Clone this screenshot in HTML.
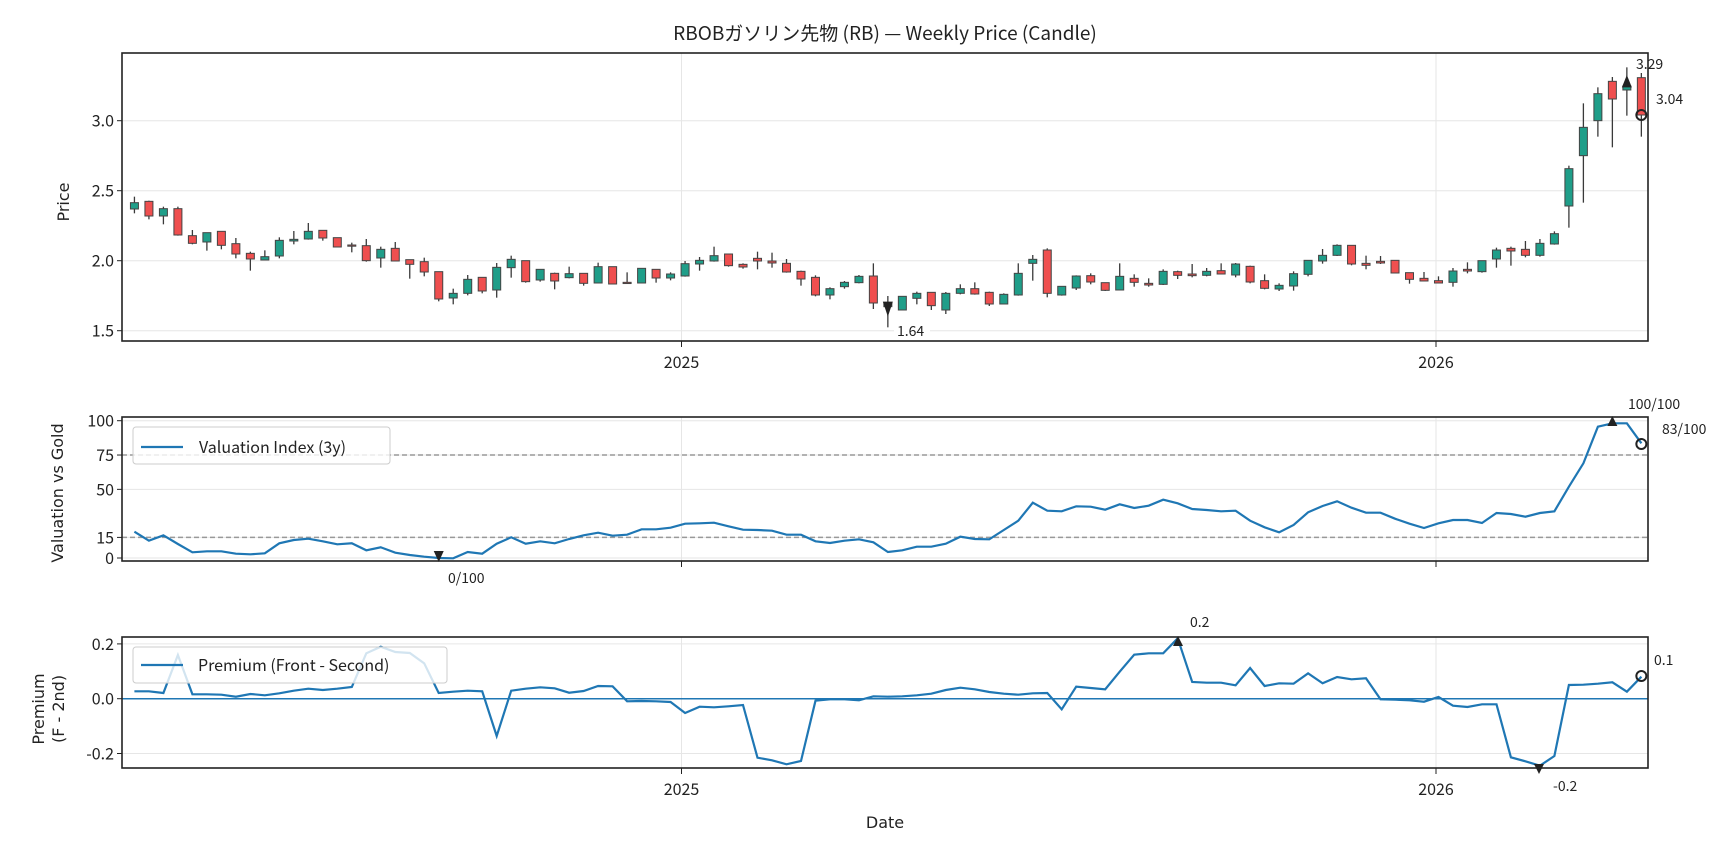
<!DOCTYPE html>
<html><head><meta charset="utf-8"><style>
html,body{margin:0;padding:0;background:#fff;}
svg{display:block;}
text{font-family:"Noto Sans CJK JP","Liberation Sans",sans-serif;fill:#222;}
.lab{font-family:"DejaVu Sans","Liberation Sans",sans-serif;}
</style></head><body>
<svg id="s" xmlns="http://www.w3.org/2000/svg" width="1728" height="849" viewBox="0 0 1728 849"></svg>
<script>
const S=document.getElementById('s');let h='';
const L=122,R=1648;
const X1=i=>i<51?(244+26.3*i)/1.815:864+(17+26.3*(i-51))/1.815;
const C=[['g',608,627,590,640],['r',604,648,602,658],['g',626,648,620,673],['r',626,705,620,707],['r',707,730,690,733],['g',698,726,698,752],['r',694,736,694,748],['r',731,762,714,775],['r',760,777,755,812],['g',770,780,751,781],['g',721,768,712,775],['g',718,723,693,733],['g',694,717,669,719],['r',691,714,691,722],['r',713,741,713,741],['r',735,738,728,757],['r',737,782,717,785],['g',748,774,740,803],['r',745,783,726,783],['r',779,793,779,836],['r',785,816,773,829],['r',815,897,815,904],['g',880,894,866,913],['g',838,880,825,886],['r',832,873,832,880],['g',802,870,789,893],['g',778,803,767,833],['r',782,845,782,848],['g',808,840,808,845],['r',820,843,818,868],['g',821,833,800,835],['r',820,850,820,857],['g',800,849,788,850],['r',800,852,800,853],['r',847,849,817,849],['g',805,849,805,849],['r',808,834,808,848],['g',822,834,817,841],['g',791,828,783,830],['g',781,792,771,812],['g',767,783,740,785],['r',762,797,762,800],['r',793,801,790,806],['r',775,783,755,808],['r',783,789,758,803],['r',790,816,777,818],['r',814,837,812,857],['r',832,885,826,889],['g',866,885,862,898],['g',847,860,843,866],['g',829,848,825,850],
['r',828,909,790,927],['g',908,920,888,982],['g',889,930,889,930],['g',880,895,875,913],['r',877,917,877,930],['g',880,930,876,942],['g',866,880,853,883],['r',866,882,847,884],['r',877,912,875,918],['g',883,912,880,913],['g',820,885,790,887],['g',778,790,765,842],['r',750,880,745,892],['g',859,885,859,887],['g',828,864,826,870],['r',827,846,820,853],['r',848,871,848,873],['g',829,870,790,870],['r',835,847,823,860],['r',850,855,835,860],['g',814,853,808,855],['r',815,826,812,837],['r',822,827,792,832],['g',814,826,804,829],['r',812,822,790,822],['g',792,825,789,832],['r',799,846,797,850],['r',842,865,823,868],['g',856,867,850,873],['g',821,858,814,872],['g',781,823,781,829],['g',766,783,747,791],['g',736,766,733,768],['r',736,792,736,796],['r',790,796,767,808],['r',784,789,768,792],['r',781,819,781,819],['r',818,838,818,851],['r',835,843,816,843],['r',842,849,829,849],['g',813,847,804,860],['r',808,813,787,820],['g',782,815,782,818],['g',750,777,743,803],['r',745,753,740,797],['r',748,766,723,772],['g',730,766,717,770],['g',701,732,694,734],['g',506,618,497,683],['g',382,467,310,608],['g',281,362,262,410],['r',244,297,231,442],['g',258,270,202,347],['r',233,345,219,410]];
const V=[320,347,331,357,382,379,379,386,388,385,355,345,341,349,358,355,376,367,383,390,395,399,400,381,386,356,337,356,349,355,342,331,323,332,329,313,313,308,296,295,293,304,314,315,317,329,329,349,354,347,343,
352,381,376,365,365,356,335,342,343,315,287,233,257,259,244,245,254,238,249,242,224,235,252,255,259,257,287,307,322,300,262,243,229,248,263,263,281,296,309,295,285,285,294,264,267,275,264,259,185,115,5,-5,-5,55];
const P=[799,799,804,690,808,808,809,815,807,811,805,797,791,795,791,786,685,665,681,684,715,804,800,797,799,933,797,791,787,790,803,798,783,784,829,828,829,831,864,845,847,844,840,998,1006,1018,1008,827,823,823,826,
814,815,814,811,806,795,788,793,801,806,809,805,804,853,785,789,793,740,689,685,685,640,771,773,773,781,729,783,775,776,745,775,756,763,760,823,824,826,830,816,842,846,838,838,997,1009,1022,993,780,779,776,772,800,755];
const x25=681.5,x26=1436;
function grid(y1,y2){h+=`<line x1="${x25}" y1="${y1}" x2="${x25}" y2="${y2}" stroke="#e6e6e6" stroke-width="1"/><line x1="${x26}" y1="${y1}" x2="${x26}" y2="${y2}" stroke="#e6e6e6" stroke-width="1"/>`;}
function yt(y,t){h+=`<line x1="${L}" x2="${R}" y1="${y}" y2="${y}" stroke="#e6e6e6"/><line x1="${L-5}" x2="${L}" y1="${y}" y2="${y}" stroke="#222"/><text x="${L-8}" y="${y+6}" font-size="16" text-anchor="end">${t}</text>`;}
function xt(yb,lab){[x25,x26].forEach((x,k)=>{h+=`<line x1="${x}" x2="${x}" y1="${yb}" y2="${yb+6}" stroke="#222"/>`;if(lab)h+=`<text x="${x}" y="${yb+27}" font-size="16" text-anchor="middle">${k?2026:2025}</text>`;});}
h+=`<text x="885" y="40" font-size="19" text-anchor="middle">RBOBガソリン先物 (RB) — Weekly Price (Candle)</text>`;
grid(53,341);
[[3.0,120.7],[2.5,190.7],[2.0,260.7],[1.5,330.7]].forEach(a=>yt(a[1],a[0].toFixed(1)));
C.forEach((c,i)=>{const x=X1(i);const col=c[0]=='g'?'#1f9e89':'#ef4f4f';
h+=`<line x1="${x}" x2="${x}" y1="${c[3]/3}" y2="${c[4]/3}" stroke="#3a3a3a" stroke-width="1.3"/>`;
let t=c[1]/3,b=Math.max(c[2]/3,t+1.2);h+=`<rect x="${x-4}" y="${t}" width="8" height="${b-t}" fill="${col}" stroke="#444" stroke-width="1"/>`;});
h+=`<polygon points="${X1(52)-5},${905/3} ${X1(52)+5},${905/3} ${X1(52)},${950/3}" fill="#222"/>`;
h+=`<rect x="894" y="320" width="36" height="20" fill="#fff"/><text x="897" y="336" font-size="14" fill="#555">1.64</text>`;
h+=`<polygon points="${X1(103)-5},${262/3} ${X1(103)+5},${262/3} ${X1(103)},${225/3}" fill="#222"/>`;
h+=`<circle cx="${X1(104)}" cy="${345/3}" r="5" fill="none" stroke="#222" stroke-width="2"/>`;
h+=`<text x="1636" y="69" font-size="14" fill="#555">3.29</text><text x="1656" y="104" font-size="14" fill="#555">3.04</text>`;
h+=`<rect x="${L}" y="53" width="${R-L}" height="288" fill="none" stroke="#222" stroke-width="1.6"/>`;
xt(341,true);
h+=`<text class="lab" transform="translate(69,202) rotate(-90)" font-size="16" text-anchor="middle">Price</text>`;
const vy=v=>558-1.373*v;
grid(417,561);
[[100],[75],[50],[15],[0]].forEach(a=>yt(vy(a[0]),a[0]));
[75,15].forEach(v=>h+=`<line x1="${L}" x2="${R}" y1="${vy(v)}" y2="${vy(v)}" stroke="#999" stroke-width="1.5" stroke-dasharray="5,3"/>`);
h+=`<polyline points="${V.map((v,i)=>X1(i).toFixed(1)+','+(425+v/3).toFixed(1)).join(' ')}" fill="none" stroke="#1f77b4" stroke-width="2.2"/>`;
h+=`<polygon points="${X1(21)-5},551 ${X1(21)+5},551 ${X1(21)},562" fill="#222"/>`;
h+=`<text x="448" y="583" font-size="14" fill="#555">0/100</text>`;
h+=`<polygon points="${X1(102)-5},426 ${X1(102)+5},426 ${X1(102)},416" fill="#222"/>`;
h+=`<circle cx="${X1(104)}" cy="444" r="5" fill="none" stroke="#222" stroke-width="2"/>`;
h+=`<text x="1628" y="409" font-size="14" fill="#555">100/100</text><text x="1662" y="434" font-size="14" fill="#555">83/100</text>`;
h+=`<rect x="133" y="427" width="257" height="37" rx="3" fill="#fff" fill-opacity="0.8" stroke="#ccc"/><line x1="141" x2="183" y1="447" y2="447" stroke="#1f77b4" stroke-width="2.2"/><text x="199" y="453" font-size="16">Valuation Index (3y)</text>`;
h+=`<rect x="${L}" y="417" width="${R-L}" height="144" fill="none" stroke="#222" stroke-width="1.6"/>`;
xt(561,false);
h+=`<text class="lab" transform="translate(63,493) rotate(-90)" font-size="16" text-anchor="middle">Valuation vs Gold</text>`;
const py=p=>698.7-274*p;
grid(637,768);
[[0.2,'0.2'],[0,'0.0'],[-0.2,'-0.2']].forEach(a=>yt(py(a[0]),a[1]));
h+=`<line x1="${L}" x2="${R}" y1="${py(0)}" y2="${py(0)}" stroke="#1f77b4" stroke-width="1.5"/>`;
h+=`<polyline points="${P.map((v,i)=>X1(i).toFixed(1)+','+(425+v/3).toFixed(1)).join(' ')}" fill="none" stroke="#1f77b4" stroke-width="2.2"/>`;
h+=`<polygon points="1173,646 1183,646 1178,636" fill="#222"/><text x="1190" y="627" font-size="14" fill="#555">0.2</text>`;
h+=`<polygon points="1534,764 1544,764 1539,774" fill="#222"/><text x="1553" y="791" font-size="14" fill="#555">-0.2</text>`;
h+=`<circle cx="${X1(104)}" cy="676" r="5" fill="none" stroke="#222" stroke-width="2"/><text x="1654" y="665" font-size="14" fill="#555">0.1</text>`;
h+=`<rect x="133" y="647" width="314" height="36" rx="3" fill="#fff" fill-opacity="0.8" stroke="#ccc"/><line x1="141" x2="183" y1="665" y2="665" stroke="#1f77b4" stroke-width="2.2"/><text x="198" y="671" font-size="16">Premium (Front - Second)</text>`;
h+=`<rect x="${L}" y="637" width="${R-L}" height="131" fill="none" stroke="#222" stroke-width="1.6"/>`;
xt(768,true);
h+=`<text class="lab" transform="translate(44,709) rotate(-90)" font-size="16" text-anchor="middle">Premium</text><text class="lab" transform="translate(64,709) rotate(-90)" font-size="16" text-anchor="middle">(F - 2nd)</text>`;
h+=`<text class="lab" x="885" y="828" font-size="16" text-anchor="middle">Date</text>`;
S.innerHTML=h;
</script>
</body></html>
